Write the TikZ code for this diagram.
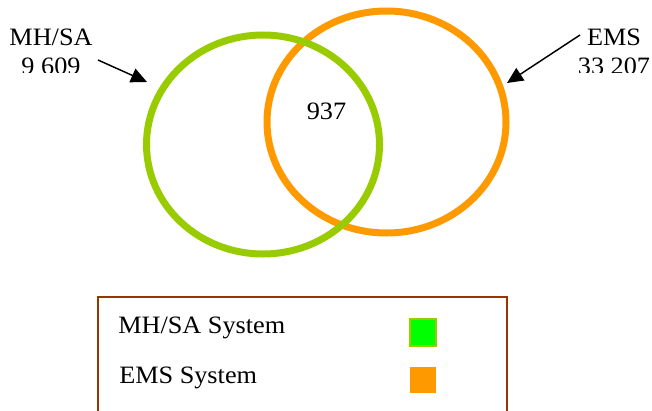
\documentclass[tikz,border=0pt]{standalone}
\usepackage{xcolor}
\usepackage{fontspec}
\setmainfont{Liberation Serif}[FakeStretch=1.05]
\usepackage{tikz}
\usetikzlibrary{arrows.meta}
\definecolor{mhgreen}{HTML}{99CC00}
\definecolor{emsorange}{HTML}{FF9900}
\definecolor{boxbrown}{HTML}{993300}
\definecolor{keygreen}{HTML}{00FF00}

\begin{document}
\begin{tikzpicture}[x=0.75pt,y=0.75pt,yscale=-1,xscale=1,
    every node/.style={inner sep=0pt,font=\fontsize{18.75}{21.75}\selectfont},
    pointer/.style={line width=1.1pt,-{Triangle[length=12pt,width=11pt]}}]
        \useasboundingbox (0,0) rectangle (652,410);
        \clip (0,0) rectangle (652,410);

        % the two sets
        \draw [color=emsorange, line width=5.25pt] (386.5,122) ellipse [x radius=119.5, y radius=111];
        \draw [color=mhgreen, line width=5.25pt] (263,144.5) ellipse [x radius=116.5, y radius=109.5];
        \node (both) [anchor=base] at (326.5,119) {937};

        % labels, cut off at the bottom as in the original
        \begin{scope}
        \clip (0,0) rectangle (652,72);
        \node (mhlabel) [anchor=north, align=center] at (51,29) {MH/SA\\9 609};
        \node (emslabel) [anchor=north, align=center] at (614,29) {EMS\\33 207};
        \end{scope}

        \coordinate (mhtail) at (98,60);
        \coordinate (mhtip) at (147,82);
        \coordinate (emstail) at (580,35);
        \coordinate (emstip) at (507,83);
        \draw [pointer] (mhtail) -- (mhtip);
        \draw [pointer] (emstail) -- (emstip);

        % legend
        \draw [color=boxbrown, line width=1.5pt] (98,297) rectangle (507,440);
        \node (mhkeytext) [anchor=base west] at (118,333) {MH/SA System};
        \node (emskeytext) [anchor=base west] at (119,383) {EMS System};
        \draw [color=mhgreen, fill=keygreen, line width=1pt] (410,319) rectangle (436,346);
        \fill [color=emsorange] (410,367) rectangle (436,393);
\end{tikzpicture}
\end{document}
